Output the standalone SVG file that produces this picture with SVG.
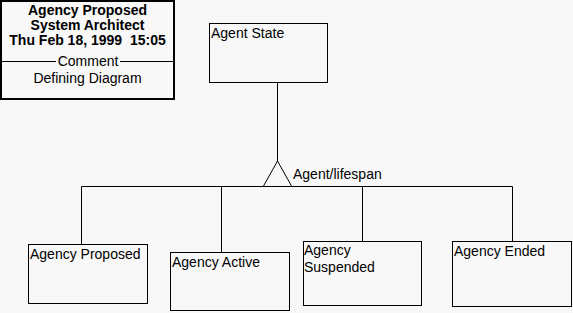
<svg xmlns="http://www.w3.org/2000/svg" width="573" height="313" viewBox="0 0 573 313">
  <style>
    .box { fill: #f8f8f8; stroke: #000; stroke-width: 1; }
    .wire { fill: none; stroke: #000; stroke-width: 1; }
    text { font-family: "Liberation Sans", Arial, sans-serif; font-size: 14px; fill: #000; }
    .title { font-weight: bold; text-anchor: middle; white-space: pre; }
    .mid { text-anchor: middle; }
  </style>
  <rect x="0" y="0" width="573" height="313" fill="#f8f8f8"/>

  <!-- header block -->
  <g id="header">
    <rect x="1" y="1" width="173" height="98" fill="#f8f8f8" stroke="#000" stroke-width="2"/>
    <text class="title" x="87.5" y="15">Agency Proposed</text>
    <text class="title" x="87.5" y="30">System Architect</text>
    <text class="title" x="87.5" y="45" xml:space="preserve">Thu Feb 18, 1999  15:05</text>
    <line class="wire" x1="2" y1="61.5" x2="56" y2="61.5"/>
    <text class="mid" x="88" y="66">Comment</text>
    <line class="wire" x1="120" y1="61.5" x2="173" y2="61.5"/>
    <text class="mid" x="87.5" y="83">Defining Diagram</text>
  </g>

  <!-- connectors -->
  <g id="connectors">
    <line class="wire" x1="277.5" y1="82" x2="277.5" y2="161"/>
    <path class="wire" d="M277.5,161 L263.5,186 M277.5,161 L291.5,186"/>
    <line class="wire" x1="81.5" y1="186.5" x2="512.5" y2="186.5"/>
    <line class="wire" x1="81.5" y1="186.5" x2="81.5" y2="244"/>
    <line class="wire" x1="221.5" y1="186.5" x2="221.5" y2="252"/>
    <line class="wire" x1="362.5" y1="186.5" x2="362.5" y2="241"/>
    <line class="wire" x1="512.5" y1="186.5" x2="512.5" y2="241"/>
    <text x="293" y="179">Agent/lifespan</text>
  </g>

  <g id="agent-state">
    <rect class="box" x="209.5" y="23.5" width="118" height="59"/>
    <text x="211" y="38">Agent State</text>
  </g>

  <g id="agency-proposed">
    <rect class="box" x="28.5" y="244.5" width="119" height="59"/>
    <text x="30" y="259">Agency Proposed</text>
  </g>

  <g id="agency-active">
    <rect class="box" x="170.5" y="252.5" width="119" height="58"/>
    <text x="172" y="267">Agency Active</text>
  </g>

  <g id="agency-suspended">
    <rect class="box" x="303.5" y="241.5" width="118" height="64"/>
    <text x="304" y="255">Agency</text>
    <text x="304" y="272">Suspended</text>
  </g>

  <g id="agency-ended">
    <rect class="box" x="452.5" y="241.5" width="119" height="65"/>
    <text x="454" y="256">Agency Ended</text>
  </g>
</svg>
